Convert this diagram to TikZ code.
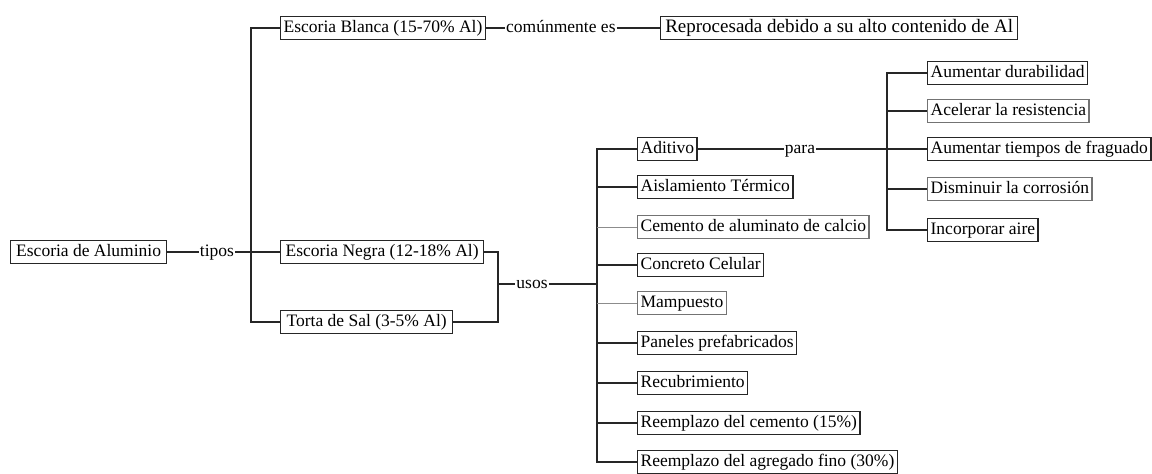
\documentclass[tikz,border=0pt]{standalone}
\usepackage{fontspec}
\setmainfont{Liberation Serif}
\newfontfamily\tnr{Liberation Serif}
\begin{document}
\begin{tikzpicture}[x=1pt,y=-1pt,
  box/.style={draw=black!85,line width=1.3pt,anchor=west,inner xsep=3pt,inner ysep=0pt,
    text height=12.5pt,text depth=4pt,minimum height=23pt,font=\tnr\fontsize{17.5}{20}\selectfont},
  lbox/.style={box,draw=black!55},
  lbl/.style={inner sep=1pt,font=\tnr\fontsize{17.5}{20}\selectfont,text height=12pt,text depth=3pt},
  ln/.style={draw=black!85,line width=1.1pt},
  lt/.style={draw=black!45,line width=0.7pt}]
\useasboundingbox (0,0) rectangle (1152,474);

% level 0
\node[box,minimum width=156pt] (alu) at (10,252) {Escoria de Aluminio};
\node[lbl] (tipos) at (217,252) {tipos};
\coordinate (tj) at (251,252);

% level 1
\node[box] (blanca) at (280,28) {Escoria Blanca (15-70\% Al)};
\node[box,minimum width=203pt] (negra) at (280,252) {Escoria Negra (12-18\% Al)};
\node[box,minimum width=172pt] (torta) at (280,322) {Torta de Sal (3-5\% Al)};

\node[lbl,anchor=west] (comun) at (505,28) {comúnmente es};
\node[box,font=\tnr\fontsize{19}{21}\selectfont,minimum width=357pt] (repro) at (660,28) {Reprocesada debido a su alto contenido de Al};

% usos
\coordinate (uj) at (498,284);
\node[lbl] (usos) at (532,284) {usos};
\coordinate (uj2) at (597,284);

\node[box] (adit) at (637,149) {Aditivo};
\node[box] (aisl) at (637,187) {Aislamiento Térmico};
\node[lbox] (cem) at (637,227) {Cemento de aluminato de calcio};
\node[box] (conc) at (637,265) {Concreto Celular};
\node[lbox] (mamp) at (637,303) {Mampuesto};
\node[box] (pan) at (637,343) {Paneles prefabricados};
\node[box] (recu) at (637,383) {Recubrimiento};
\node[box] (rcem) at (637,423) {Reemplazo del cemento (15\%)};
\node[box] (ragr) at (637,462) {Reemplazo del agregado fino (30\%)};

% para
\node[lbl] (para) at (800,149) {para};
\coordinate (pj) at (887,149);
\node[box] (dur) at (927,73) {Aumentar durabilidad};
\node[lbox] (acel) at (927,111) {Acelerar la resistencia};
\node[box] (frag) at (927,149) {Aumentar tiempos de fraguado};
\node[lbox] (corr) at (927,189) {Disminuir la corrosión};
\node[box] (aire) at (927,230) {Incorporar aire};

% connectors
\draw[ln] (alu) -- (tipos);
\draw[ln] (tipos) -- (tj) -- (negra.west);
\draw[ln] (blanca.west) -| (tj) |- (torta.west);
\draw[ln] (blanca.east) -- (comun);
\draw[ln] (comun) -- (repro.west);

\draw[ln] (negra.east) -| (uj) |- (torta.east);
\draw[ln] (uj) -- (usos);
\draw[ln] (usos) -- (uj2);
\draw[ln] (uj2) |- (adit.west);
\draw[ln] (uj2) |- (ragr.west);
\draw[ln] (uj2 |- aisl.west) -- (aisl.west);
\draw[lt] (uj2 |- cem.west) -- (cem.west);
\draw[ln] (uj2 |- conc.west) -- (conc.west);
\draw[lt] (uj2 |- mamp.west) -- (mamp.west);
\draw[ln] (uj2 |- pan.west) -- (pan.west);
\draw[ln] (uj2 |- recu.west) -- (recu.west);
\draw[ln] (uj2 |- rcem.west) -- (rcem.west);

\draw[ln] (adit.east) -- (para);
\draw[ln] (para) -- (frag.west);
\draw[ln] (dur.west) -| (pj) |- (aire.west);
\draw[ln] (pj |- acel.west) -- (acel.west);
\draw[ln] (pj |- corr.west) -- (corr.west);
\end{tikzpicture}
\end{document}
